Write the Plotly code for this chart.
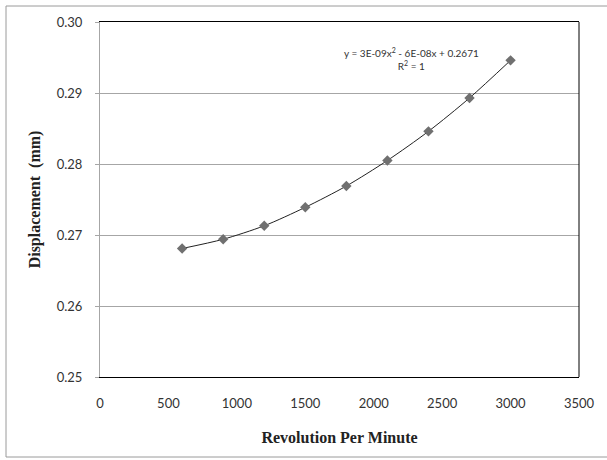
import plotly.graph_objects as go

rpm = [600, 900, 1200, 1500, 1800, 2100, 2400, 2700, 3000]
displacement = [0.2681, 0.2694, 0.2713, 0.2739, 0.2769, 0.2805, 0.2846, 0.2893, 0.2946]
x_ticks = [0, 500, 1000, 1500, 2000, 2500, 3000, 3500]
y_ticks = [0.25, 0.26, 0.27, 0.28, 0.29, 0.30]
y_tick_text = ["0.25", "0.26", "0.27", "0.28", "0.29", "0.30"]
equation_text = "y = 3E-09x<sup>2</sup> - 6E-08x + 0.2671<br>R<sup>2</sup> = 1"

W, H = 607, 460
ml, mr, mt, mb = 100, 28, 22, 83
pw, ph = W - ml - mr, H - mt - mb

fig = go.Figure()
fig.add_trace(go.Scatter(
    x=rpm, y=displacement, mode="lines",
    line=dict(color="#222222", width=1, shape="spline", smoothing=0.8),
    hoverinfo="skip", showlegend=False))
fig.add_trace(go.Scatter(
    x=rpm, y=displacement, mode="markers",
    marker=dict(symbol="diamond", size=8, color="#707070"),
    showlegend=False))

fig.update_layout(
    width=W, height=H,
    margin=dict(l=ml, r=mr, t=mt, b=mb, pad=0),
    paper_bgcolor="white", plot_bgcolor="white",
    font=dict(family="Lato, Open Sans, sans-serif", size=13, color="#333333"),
    xaxis=dict(range=[0, 3500], tickvals=x_ticks, showgrid=False, zeroline=False,
               automargin=False,
               showline=True, linecolor="#000000", linewidth=1, mirror=True,
               ticks="", ticklabelstandoff=14,
               tickfont=dict(family="Lato, sans-serif", size=13, color="#333333"),
               title=dict(text="<b>Revolution Per Minute</b>", standoff=22,
                          font=dict(family="Liberation Serif, serif", size=16, color="#222222"))),
    yaxis=dict(range=[0.25, 0.30], tickvals=y_ticks, ticktext=y_tick_text,
               automargin=False,
               showgrid=True, gridcolor="#a6a6a6", gridwidth=1, zeroline=False,
               showline=True, linecolor="#a6a6a6", linewidth=1,
               ticks="outside", ticklen=4, tickcolor="#a6a6a6",
               ticklabelstandoff=10,
               tickfont=dict(family="Lato, sans-serif", size=13, color="#333333"),
               title=dict(text="<b>Displacement  (mm)</b>", standoff=12,
                          font=dict(family="Liberation Serif, serif", size=16, color="#222222"))),
    annotations=[dict(xref="x", yref="y", x=2275, y=0.2948, text=equation_text,
                      showarrow=False, align="center",
                      font=dict(family="Lato, sans-serif", size=10, color="#333333"))],
    shapes=[
        dict(type="line", xref="paper", yref="paper", x0=1, x1=1, y0=0, y1=1,
             line=dict(color="#000000", width=1)),
        dict(type="rect", xref="paper", yref="paper",
             x0=(6 - ml) / pw, x1=(630 - ml) / pw,
             y0=(H - mb - 457) / ph, y1=(H - mb - 6) / ph,
             line=dict(color="#9a9a9a", width=1), fillcolor="rgba(0,0,0,0)", layer="below"),
    ],
)

fig.write_html("out.html",
               config={"displayModeBar": False},
               post_script="document.body.style.margin='0';document.body.style.overflow='hidden';")
